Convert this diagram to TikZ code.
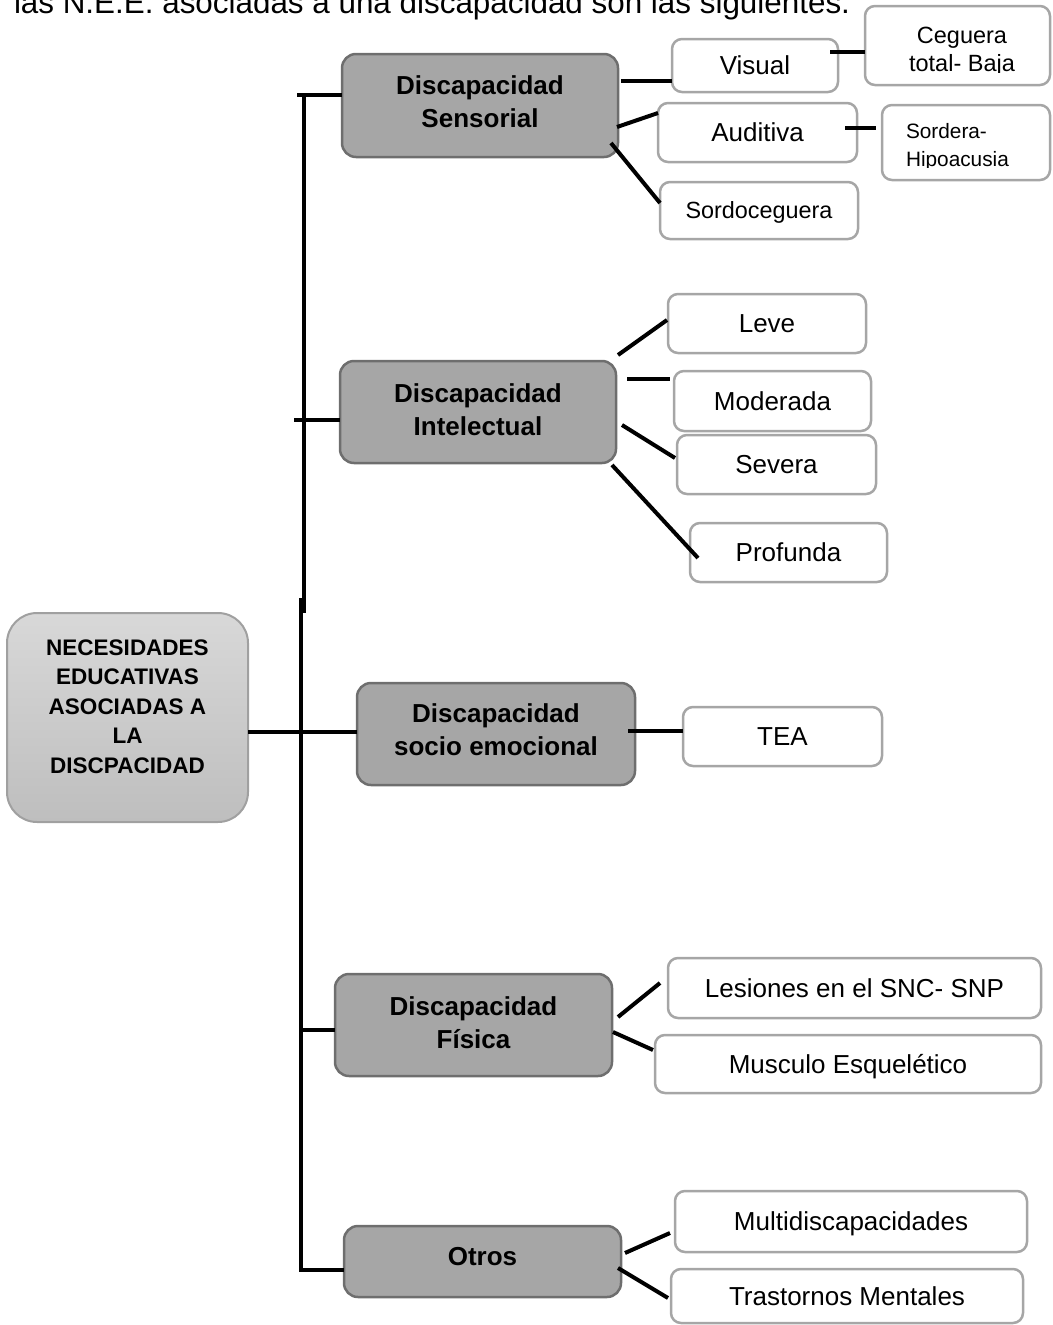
\documentclass[tikz,border=0pt]{standalone}
\usepackage{fontspec}
\setmainfont{Liberation Sans}
\definecolor{lvlfill}{HTML}{A6A6A6}
\definecolor{lvlborder}{HTML}{6E6E6E}
\definecolor{leafborder}{HTML}{A6A6A6}
\definecolor{rootborder}{HTML}{A0A0A0}
\definecolor{roottop}{HTML}{D8D8D8}
\definecolor{rootbot}{HTML}{BEBEBE}
\newcommand\placebox[7]{\node[#1, minimum width={#5pt-#3pt}, minimum height={#6pt-#4pt}] (#2) at ({(#3+#5)/2},{(#4+#6)/2}) {#7};}
\begin{document}
\begin{tikzpicture}[x=1pt,y=-1pt,
  lvl/.style={draw=lvlborder, line width=2.5pt, fill=lvlfill, rounded corners=14pt, inner sep=0pt, outer sep=0pt, align=center, font=\fontsize{26}{33}\selectfont\bfseries},
  leafbox/.style={draw=leafborder, line width=2.5pt, fill=white, rounded corners=10pt, inner sep=0pt, outer sep=0pt, font=\fontsize{26}{31}\selectfont, text height=18.6pt, text depth=0pt},
  rootbox/.style={draw=rootborder, line width=2pt, top color=roottop, bottom color=rootbot, rounded corners=30pt, inner sep=0pt, outer sep=0pt, align=center, font=\fontsize{22.5}{29.5}\selectfont\bfseries},
  link/.style={line width=4pt, black},
  plain/.style={inner sep=0pt, outer sep=0pt}
]
\path[use as bounding box, clip] (0,0) rectangle (1052,1325);

% heading (cut at top)
\node[plain, anchor=base west, font=\fontsize{31.4}{36}\selectfont] (heading) at (14,13) {las N.E.E. asociadas a una discapacidad son las siguientes.};

% root
\placebox{rootbox}{root}{7}{613}{248}{822}{NECESIDADES\\EDUCATIVAS\\ASOCIADAS A\\LA\\DISCPACIDAD\\[-7.5pt]\mbox{}}

% level one
\placebox{lvl}{sens}{342}{54}{618}{157}{Discapacidad\\Sensorial\\[-26pt]\mbox{}}
\placebox{lvl}{intel}{340}{361}{616}{463}{Discapacidad\\Intelectual\\[-28pt]\mbox{}}
\placebox{lvl}{socio}{357}{683}{635}{785}{Discapacidad\\socio emocional\\[-24pt]\mbox{}}
\placebox{lvl}{fis}{335}{974}{612}{1076}{Discapacidad\\Física\\[-28pt]\mbox{}}
\placebox{lvl}{otros}{344}{1226}{621}{1297}{Otros\\[-22pt]\mbox{}}

% leaves
\placebox{leafbox}{vis}{672}{39}{838}{92}{Visual}
\placebox{leafbox}{aud}{658}{103}{857}{162}{Auditiva}
\placebox{leafbox, font=\fontsize{23.4}{28}\selectfont, text height=16.8pt}{sordoc}{660}{182}{858}{239}{Sordoceguera}
\placebox{leafbox}{ceg}{865}{6}{1050}{85}{}
\placebox{leafbox}{sord}{882}{105}{1050}{180}{}
\placebox{leafbox}{leve}{668}{294}{866}{353}{Leve}
\placebox{leafbox}{mod}{674}{371}{871}{431}{Moderada}
\placebox{leafbox}{sev}{677}{435}{876}{494}{Severa}
\placebox{leafbox}{prof}{690}{523}{887}{582}{Profunda}
\placebox{leafbox}{tea}{683}{707}{882}{766}{TEA}
\placebox{leafbox}{les}{668}{958}{1041}{1018}{Lesiones en el SNC- SNP}
\placebox{leafbox}{mus}{655}{1035}{1041}{1093}{Musculo Esquelético}
\placebox{leafbox}{multi}{675}{1191}{1027}{1252}{Multidiscapacidades}
\placebox{leafbox}{tras}{671}{1269}{1023}{1323}{Trastornos Mentales}

% clipped texts of the two small boxes
\begin{scope}
  \clip (865,6) rectangle (1050,72);
  \node[plain, anchor=base, font=\fontsize{23.5}{28}\selectfont] (cegA) at (962,43) {Ceguera};
  \node[plain, anchor=base, font=\fontsize{23.5}{28}\selectfont] (cegB) at (962,71) {total- Baja};
\end{scope}
\begin{scope}
  \clip (882,105) rectangle (1050,167);
  \node[plain, anchor=base west, font=\fontsize{20.8}{28}\selectfont] (sordA) at (906,138) {Sordera-};
  \node[plain, anchor=base west, font=\fontsize{20.8}{28}\selectfont] (sordB) at (906,166) {Hipoacusia};
\end{scope}

% trunk
\coordinate (trunkA) at (304,93);
\coordinate (trunkB) at (304,613);
\coordinate (trunkC) at (301,598);
\coordinate (trunkD) at (301,1272);
\draw[link] (trunkA) -- (trunkB);
\draw[link] (trunkC) -- (trunkD);

\coordinate (tickS) at (297,95);
\coordinate (tickI) at (294,420);
\coordinate (tickF) at (301,1030);
\coordinate (tickO) at (301,1270);
\draw[link] (tickS) -- ([shift={(0,41)}]sens.north west);
\draw[link] (tickI) -- ([shift={(0,59)}]intel.north west);
\draw[link] ([shift={(0,119)}]root.north east) -- ([shift={(0,49)}]socio.north west);
\draw[link] (tickF) -- ([shift={(0,56)}]fis.north west);
\draw[link] (tickO) -- ([shift={(0,44)}]otros.north west);

% branches
\draw[link] ([shift={(3,27)}]sens.north east) -- ([shift={(0,42)}]vis.north west);
\draw[link] ([shift={(-1,73)}]sens.north east) -- ([shift={(0,10)}]aud.north west);
\draw[link] ([shift={(-7,89)}]sens.north east) -- ([shift={(0,21)}]sordoc.north west);
\draw[link] ([shift={(-8,13)}]vis.north east) -- ([shift={(0,46)}]ceg.north west);
\draw[link] ([shift={(-12,25)}]aud.north east) -- ([shift={(-6,23)}]sord.north west);

\draw[link] ([shift={(2,-6)}]intel.north east) -- ([shift={(-1,26)}]leve.north west);
\draw[link] ([shift={(11,18)}]intel.north east) -- ([shift={(-4,8)}]mod.north west);
\draw[link] ([shift={(6,64)}]intel.north east) -- ([shift={(-2,23)}]sev.north west);
\draw[link] ([shift={(-4,104)}]intel.north east) -- ([shift={(8,35)}]prof.north west);

\draw[link] ([shift={(-7,48)}]socio.north east) -- ([shift={(0,24)}]tea.north west);

\draw[link] ([shift={(6,43)}]fis.north east) -- ([shift={(-8,25)}]les.north west);
\draw[link] ([shift={(1,58)}]fis.north east) -- ([shift={(-2,15)}]mus.north west);

\draw[link] ([shift={(4,27)}]otros.north east) -- ([shift={(-5,42)}]multi.north west);
\draw[link] ([shift={(-3,42)}]otros.north east) -- ([shift={(-3,29)}]tras.north west);
\end{tikzpicture}
\end{document}
